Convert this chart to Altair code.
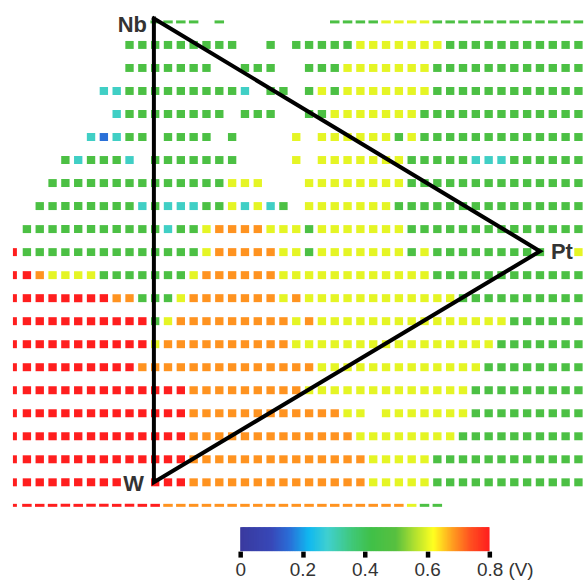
import altair as alt
import numpy as np
import pandas as pd

# ---- data --------------------------------------------------------------
# voltage class of each wafer cell; one string per row (top -> bottom), 45 columns
CODES = {"R": 0.80, "O": 0.69, "Y": 0.60, "G": 0.46, "C": 0.29, "B": 0.16}
ROWS = [
    "." * 11 + "GGGG" + "." + "G" + "." * 8 + "GGGG" + "YYYY" + "G" * 12,
    "." * 9 + "G" * 9 + ".." + "G" + "." + "G" * 5 + "Y" * 7 + "G" * 11,
    "." * 9 + "G" * 7 + ".." + "GGG" + ".." + "GGG" + "Y" * 7 + "G" * 12,
    "." * 7 + "CC" + "G" * 9 + "C" + "." + "GG" + "." + "G" + "Y" + "G" + "Y" * 7 + "G" * 12,
    "." * 8 + "C" + "G" * 8 + "." + "GGG" + ".." + "GG" + "Y" * 7 + "G" * 13,
    "." * 6 + "CBC" + "GG" + "." + "GGGG" + "." + "G" + "...." + "Y" + "." + "Y" * 6 + "G" + "Y" + "G" * 13,
    "." * 4 + "GC" + "GGG" + "C" + "." + "G" * 7 + "...." + "Y" + "." + "Y" * 7 + "G" * 5 + "CCC" + "G" * 6,
    "..." + "G" * 14 + "YYY" + "..." + "Y" * 8 + "G" * 14,
    ".." + "G" * 8 + "C" + "G" + "CCC" + "GG" + "YCYCG" + "." + "Y" * 7 + "G" * 15,
    "." + "G" * 11 + "C" + "GG" + "Y" + "OOOO" + "YYY" + "G" + "Y" * 7 + "G" * 14,
    "R" + "G" * 14 + "Y" + "O" * 5 + "YY" + "G" + "Y" * 7 + "GY" + "G" * 9 + ".." + "Y",
    "RRO" + "YYYY" + "G" * 7 + "Y" + "O" * 6 + "Y" * 12 + "G" * 12,
    "R" * 8 + "OO" + "GGG" + "Y" + "O" * 7 + "YO" + "Y" * 12 + "G" * 10,
    "R" * 11 + "GY" + "O" * 9 + "YO" + "Y" * 15 + "G" * 6,
    "R" * 11 + "Y" + "O" * 10 + "Y" * 16 + "G" * 7,
    "R" * 10 + "O" * 14 + "Y" * 13 + "G" * 8,
    "R" * 14 + "O" * 9 + "Y" * 13 + "G" * 9,
    "R" * 14 + "O" * 12 + "YY" + "." + "Y" * 7 + "G" * 9,
    "R" * 14 + "O" * 13 + "Y" * 8 + "G" * 10,
    "R" * 14 + "O" * 14 + "Y" * 5 + "G" * 12,
    "R" * 9 + ".." + "RRR" + "O" * 14 + "Y" * 5 + "G" * 12,
    "R" * 12 + "O" * 19 + "Y" + "GG" + "." * 11,
]

# composition triangle corners (column, row in the wafer grid)
TRI_NAMES = ["Nb", "Pt", "W", "Nb"]
TRI_COL = [10.9, 41.0, 10.9, 10.9]
TRI_ROW = [-0.15, 9.96, 20.0, -0.15]

# colour bar
CBAR_TICKS = [0, 0.2, 0.4, 0.6, 0.8]
STOPS = [0.0, 0.10, 0.16, 0.22, 0.28, 0.36, 0.42, 0.50, 0.56, 0.62, 0.68, 0.74, 0.80]
STOP_COLORS = ["#3a3a9e", "#3848b8", "#2a70d8", "#10b8f0", "#40d0d0", "#40c878",
               "#40c048", "#58c040", "#b0e030", "#ffff20", "#ffa020", "#ff5020", "#ff1e1e"]

# ---- tables ---------------------------------------------------------------
cells = []
for r, s in enumerate(ROWS):
    assert len(s) == 45, (r, len(s))
    for c, ch in enumerate(s):
        if ch != ".":
            cells.append({"row": r, "col": c, "v": CODES[ch]})
cells_df = pd.DataFrame(cells)

tri_df = pd.DataFrame({"name": TRI_NAMES, "col": TRI_COL, "row": TRI_ROW,
                       "order": list(range(len(TRI_NAMES)))})
lab_df = tri_df.iloc[:3]

step = 0.004
v0 = np.round(np.arange(0, 0.8, step), 4)
cbar_df = pd.DataFrame({"v0": v0, "v1": np.minimum(v0 + 2 * step, 0.8), "vc": v0 + step / 2})

# ---- scales -----------------------------------------------------------
color_scale = alt.Scale(domain=STOPS, range=STOP_COLORS, interpolate="rgb", clamp=True)
xs = alt.Scale(domain=[-1.0202, 44.59], nice=False, zero=False)
ys = alt.Scale(domain=[-0.866, 21.43], nice=False, zero=False, reverse=True)

# ---- wafer map ------------------------------------------------------------
edge = "(datum.row == 0 || datum.row == 21)"
cells_layer = (
    alt.Chart(cells_df)
    .transform_calculate(hw=f"{edge} ? 0.37 : 0.326", hh=f"{edge} ? 0.065 : 0.173")
    .transform_calculate(
        x1="datum.col == 0 ? datum.col - 0.09 : datum.col - datum.hw",
        x2="datum.col == 0 ? datum.col + 0.22 : datum.col + datum.hw",
        y1="datum.row - datum.hh",
        y2="datum.row + datum.hh",
    )
    .mark_rect(strokeWidth=0)
    .encode(
        x=alt.X("x1:Q", scale=xs, axis=None),
        x2="x2:Q",
        y=alt.Y("y1:Q", scale=ys, axis=None),
        y2="y2:Q",
        color=alt.Color("v:Q", scale=color_scale, legend=None),
    )
)

tri_layer = (
    alt.Chart(tri_df)
    .mark_line(color="black", strokeWidth=4, strokeJoin="miter", strokeCap="square")
    .encode(
        x=alt.X("col:Q", scale=xs, axis=None),
        y=alt.Y("row:Q", scale=ys, axis=None),
        order="order:Q",
    )
)


def corner_label(name, align, dx, dy):
    return (
        alt.Chart(lab_df)
        .transform_filter(f"datum.name == '{name}'")
        .mark_text(align=align, baseline="middle", dx=dx, dy=dy,
                   font="Liberation Sans", fontSize=22, fontWeight="bold", color="#333333")
        .encode(
            x=alt.X("col:Q", scale=xs, axis=None),
            y=alt.Y("row:Q", scale=ys, axis=None),
            text="name:N",
        )
    )


wafer = alt.layer(
    cells_layer,
    tri_layer,
    corner_label("Nb", "right", -7, 7),
    corner_label("Pt", "left", 11, 1),
    corner_label("W", "right", -10, 2),
).properties(width=587, height=515)

# ---- colour bar -----------------------------------------------------------
last = "datum.value > 0.79"
cbar = (
    alt.Chart(cbar_df)
    .mark_rect(strokeWidth=0)
    .encode(
        x=alt.X(
            "v0:Q",
            scale=alt.Scale(domain=[-0.768, 1.1104], nice=False, zero=False),
            axis=alt.Axis(
                values=CBAR_TICKS,
                title=None,
                domain=False,
                grid=False,
                tickColor="black",
                tickWidth=4.5,
                tickSize=6,
                labelFont="Liberation Sans",
                labelFontSize=19,
                labelColor="#333333",
                labelPadding=3,
                labelFlush=False,
                labelOverlap=False,
                labelExpr=f"datum.value == 0 ? '0' : ({last} ? '0.8 (V)' : format(datum.value, '.1f'))",
                labelAlign={"condition": {"test": last, "value": "left"}, "value": "center"},
                labelOffset={"condition": {"test": last, "value": -13}, "value": 0},
            ),
        ),
        x2="v1:Q",
        color=alt.Color("vc:Q", scale=color_scale, legend=None),
    )
    .properties(width=587, height=24)
)

chart = (
    alt.vconcat(wafer, cbar, spacing=10)
    .properties(padding=0, background="white")
    .configure_view(stroke="transparent")
)

chart.save("out.html", embed_options={"renderer": "svg", "actions": False})
